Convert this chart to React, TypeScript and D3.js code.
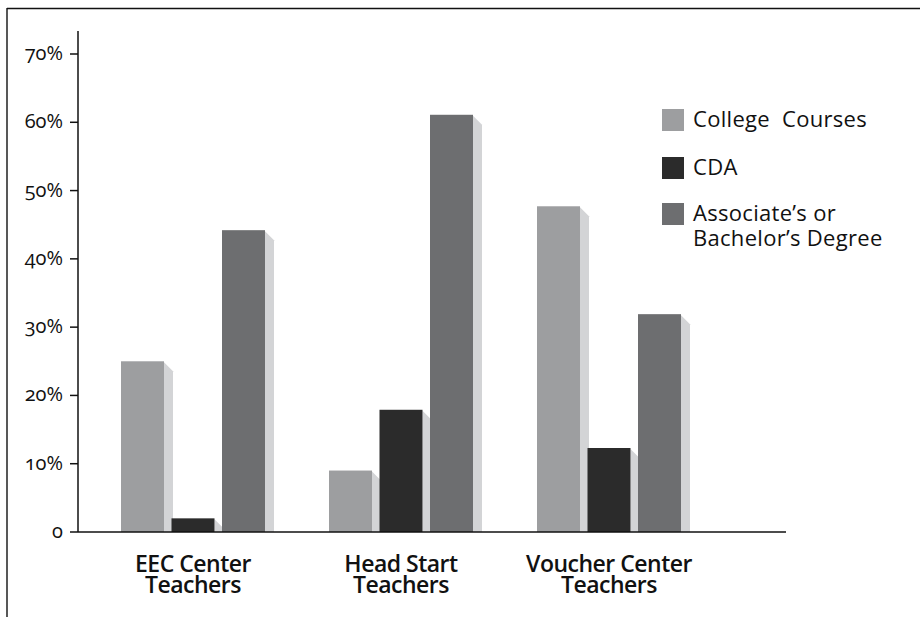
import React from "react";
import * as d3 from "d3";

const categories = ["EEC Center|Teachers", "Head Start|Teachers", "Voucher Center|Teachers"];
const seriesNames = ["College  Courses", "CDA", "Associate’s or|Bachelor’s Degree"];
const collegeCourses = [0.25, 0.09, 0.477];
const cda = [0.02, 0.179, 0.123];
const associates = [0.442, 0.611, 0.319];
const seriesColors = ["#9d9ea0", "#2b2b2b", "#6d6e70"];
const yTicks = [0, 0.1, 0.2, 0.3, 0.4, 0.5, 0.6, 0.7];
const yTickLabels = ["0", "10%", "20%", "30%", "40%", "50%", "60%", "70%"];

const FONT = "'Open Sans', 'Noto Sans', sans-serif";

export default function App() {
  const W = 920;
  const H = 617;
  const axisX = 78;
  const axisRight = 786;
  const y = d3.scaleLinear().domain([0, 0.7]).range([532, 54]);
  const x0 = d3.scaleBand<string>().domain(categories).range([89, 713]).padding(0);
  const x1 = d3
    .scaleBand<number>()
    .domain([0, 1, 2])
    .range([32, 176])
    .paddingInner(0.1485)
    .paddingOuter(0);
  const series = [collegeCourses, cda, associates];
  const sh = 9;
  const y0 = y(0);

  return (
    <svg
      width={W}
      height={H}
      style={{ position: "absolute", left: 0, top: 0, background: "#fff" }}
    >
      {/* frame */}
      <line x1={7} y1={8.5} x2={W} y2={8.5} stroke="#111" strokeWidth={1.6} />
      <line x1={7} y1={8} x2={7} y2={H} stroke="#111" strokeWidth={1.4} />

      {/* bars */}
      {categories.map((c, ci) =>
        series.map((s, si) => {
          const bx = (x0(c) as number) + (x1(si) as number);
          const bw = x1.bandwidth();
          const by = y(s[ci]);
          const pts = [
            [bx + bw, by + 1],
            [bx + bw + sh, by + sh + 1],
            [bx + bw + sh, y0],
            [bx + bw, y0],
          ];
          return (
            <g key={`${ci}-${si}`}>
              <polygon points={pts.map((p) => p.join(",")).join(" ")} fill="#d3d4d6" />
              <rect x={bx} y={by} width={bw} height={y0 - by} fill={seriesColors[si]} />
            </g>
          );
        })
      )}

      {/* y axis */}
      <line x1={axisX} y1={31} x2={axisX} y2={y0} stroke="#111" strokeWidth={1.5} />
      {yTicks.map((t, i) => (
        <g key={t}>
          <line x1={axisX - 8} y1={y(t)} x2={axisX} y2={y(t)} stroke="#111" strokeWidth={1.5} />
          <text
            x={63}
            y={y(t)}
            dy="0.3em"
            textAnchor="end"
            fontFamily={FONT}
            fontSize={20}
            fill="#111"
            style={{ fontVariantNumeric: "oldstyle-nums" }}
          >
            {yTickLabels[i]}
          </text>
        </g>
      ))}
      {/* x axis */}
      <line x1={axisX} y1={y0} x2={axisRight} y2={y0} stroke="#111" strokeWidth={1.5} />

      {/* category labels */}
      {categories.map((c) => {
        const cx = (x0(c) as number) + x0.bandwidth() / 2;
        const lines = c.split("|");
        return (
          <text
            key={c}
            x={cx}
            textAnchor="middle"
            fontFamily={FONT}
            fontWeight={600}
            fontSize={23}
            fill="#111"
            letterSpacing={-0.5}
          >
            {lines.map((l, li) => (
              <tspan key={li} x={cx} y={572 + li * 21}>
                {l}
              </tspan>
            ))}
          </text>
        );
      })}

      {/* legend */}
      {seriesNames.map((n, i) => {
        const ly = [109, 157, 203][i];
        const lines = n.split("|");
        return (
          <g key={n}>
            <rect x={662} y={ly} width={22} height={22} fill={seriesColors[i]} />
            <text
              fontFamily={FONT}
              fontSize={22}
              letterSpacing={0.3}
              fill="#111"
              style={{ whiteSpace: "pre" }}
            >
              {lines.map((l, li) => (
                <tspan key={li} x={693} y={ly + 18 + li * 25}>
                  {l}
                </tspan>
              ))}
            </text>
          </g>
        );
      })}
    </svg>
  );
}
